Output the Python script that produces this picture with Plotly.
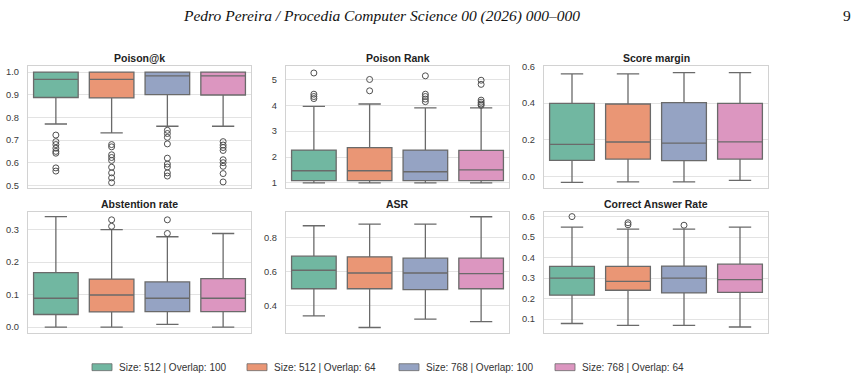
import plotly.graph_objects as go

W, H = 858, 381

configs = ["Size: 512 | Overlap: 100", "Size: 512 | Overlap: 64",
           "Size: 768 | Overlap: 100", "Size: 768 | Overlap: 64"]
colors = ["#71b7a1", "#ea9675", "#95a3c3", "#dc96c0"]

titles = ["Poison@k", "Poison Rank", "Score margin",
          "Abstention rate", "ASR", "Correct Answer Rate"]

# box statistics per panel: lists over the 4 configs
poisonk_q1 = [0.888, 0.886, 0.901, 0.899]
poisonk_med = [0.968, 0.968, 0.983, 0.983]
poisonk_q3 = [1.0, 1.0, 1.0, 1.0]
poisonk_lo = [0.771, 0.732, 0.761, 0.761]
poisonk_hi = [1.0, 1.0, 1.0, 1.0]
poisonk_out = [[0.722, 0.693, 0.680, 0.664, 0.650, 0.642, 0.577, 0.563],
               [0.680, 0.670, 0.635, 0.623, 0.610, 0.580, 0.555, 0.533, 0.512],
               [0.743, 0.729, 0.712, 0.683, 0.620, 0.594, 0.581, 0.555, 0.541],
               [0.693, 0.678, 0.667, 0.654, 0.613, 0.600, 0.584, 0.552, 0.515]]

rank_q1 = [1.09, 1.09, 1.09, 1.09]
rank_med = [1.47, 1.47, 1.43, 1.50]
rank_q3 = [2.27, 2.36, 2.27, 2.26]
rank_lo = [1.0, 1.0, 1.0, 1.0]
rank_hi = [3.96, 4.05, 3.90, 3.90]
rank_out = [[5.25, 4.43, 4.34, 4.26],
            [5.00, 4.56],
            [5.14, 4.43, 4.34, 4.24, 4.14],
            [4.97, 4.81, 4.20, 4.12, 4.05, 4.00]]

margin_q1 = [0.088, 0.095, 0.086, 0.095]
margin_med = [0.175, 0.188, 0.182, 0.189]
margin_q3 = [0.398, 0.395, 0.402, 0.398]
margin_lo = [-0.032, -0.029, -0.029, -0.021]
margin_hi = [0.559, 0.559, 0.566, 0.566]
margin_out = [[], [], [], []]

abst_q1 = [0.039, 0.047, 0.048, 0.048]
abst_med = [0.089, 0.099, 0.089, 0.089]
abst_q3 = [0.168, 0.148, 0.139, 0.149]
abst_lo = [0.0, 0.0, 0.009, 0.0]
abst_hi = [0.340, 0.300, 0.278, 0.288]
abst_out = [[], [0.330, 0.310], [0.330, 0.288], []]

asr_q1 = [0.501, 0.501, 0.496, 0.501]
asr_med = [0.610, 0.594, 0.594, 0.590]
asr_q3 = [0.693, 0.689, 0.681, 0.681]
asr_lo = [0.341, 0.273, 0.322, 0.308]
asr_hi = [0.872, 0.882, 0.882, 0.925]
asr_out = [[], [], [], []]

car_q1 = [0.217, 0.241, 0.228, 0.231]
car_med = [0.300, 0.284, 0.300, 0.293]
car_q3 = [0.357, 0.357, 0.359, 0.368]
car_lo = [0.079, 0.070, 0.070, 0.062]
car_hi = [0.549, 0.539, 0.539, 0.549]
car_out = [[0.600], [0.570, 0.560], [0.558], []]

panels = [
    (poisonk_q1, poisonk_med, poisonk_q3, poisonk_lo, poisonk_hi, poisonk_out),
    (rank_q1, rank_med, rank_q3, rank_lo, rank_hi, rank_out),
    (margin_q1, margin_med, margin_q3, margin_lo, margin_hi, margin_out),
    (abst_q1, abst_med, abst_q3, abst_lo, abst_hi, abst_out),
    (asr_q1, asr_med, asr_q3, asr_lo, asr_hi, asr_out),
    (car_q1, car_med, car_q3, car_lo, car_hi, car_out),
]

y_ranges = [[0.488, 1.027], [0.80, 5.52], [-0.063, 0.602],
            [-0.017, 0.355], [0.242, 0.955], [0.034, 0.624]]
y_dticks = [0.1, 1, 0.2, 0.1, 0.2, 0.1]
y_formats = [".1f", "d", ".1f", ".1f", ".1f", ".1f"]

# layout in pixels
col_px = [(28, 251), (286, 509), (544, 768)]
row_px = [(63, 187), (211, 334)]

LINE = "#6a6a6a"
GRID = "#e3e3e3"
FRAME = "#d2d2d2"
FONT = "Liberation Sans, Arial, sans-serif"

fig = go.Figure()
layout = dict(width=W, height=H, margin=dict(l=0, r=0, t=0, b=0),
              paper_bgcolor="white", plot_bgcolor="white",
              showlegend=False, boxmode="overlay")
annotations = []
shapes = []

for i, (q1, med, q3, lo, hi, outs) in enumerate(panels):
    r, c = divmod(i, 3)
    n = i + 1
    xa = "x" if n == 1 else f"x{n}"
    ya = "y" if n == 1 else f"y{n}"
    x0, x1 = col_px[c]
    t0, t1 = row_px[r]
    layout["xaxis" if n == 1 else f"xaxis{n}"] = dict(
        domain=[x0 / W, x1 / W], anchor=ya, type="category",
        categoryorder="array", categoryarray=configs, range=[-0.5, 3.5],
        showticklabels=False, showgrid=False, zeroline=False,
        showline=True, mirror=True, linecolor=FRAME, linewidth=1.2, ticks="")
    layout["yaxis" if n == 1 else f"yaxis{n}"] = dict(
        domain=[1 - t1 / H, 1 - t0 / H], anchor=xa, range=y_ranges[i],
        dtick=y_dticks[i], tick0=0, tickformat=y_formats[i],
        showgrid=True, gridcolor=GRID, gridwidth=1, zeroline=False,
        showline=True, mirror=True, linecolor=FRAME, linewidth=1.2,
        ticks="", ticklabelstandoff=6,
        tickfont=dict(family=FONT, size=9.3, color="#3a3a3a"))
    for k, name in enumerate(configs):
        fig.add_trace(go.Box(
            x=[name], q1=[q1[k]], median=[med[k]], q3=[q3[k]],
            lowerfence=[lo[k]], upperfence=[hi[k]],
            width=0.8, whiskerwidth=0.5, fillcolor=colors[k],
            line=dict(color=LINE, width=1.3), xaxis=xa, yaxis=ya,
            name=name, hoverinfo="skip"))
        if outs[k]:
            fig.add_trace(go.Scatter(
                x=[name] * len(outs[k]), y=outs[k], mode="markers",
                marker=dict(symbol="circle-open", size=6,
                            color="#505050", line=dict(width=1)),
                xaxis=xa, yaxis=ya, hoverinfo="skip"))
    annotations.append(dict(
        text=f"<b>{titles[i]}</b>", xref="paper", yref="paper",
        x=(x0 + x1) / 2 / W, y=1 - (t0 - 8) / H, xanchor="center",
        yanchor="middle", showarrow=False,
        font=dict(family=FONT, size=10.5, color="#222222")))

# header
annotations.append(dict(
    text="<i>Pedro Pereira / Procedia Computer Science 00 (2026) 000–000</i>",
    xref="paper", yref="paper", x=381 / W, y=1 - 12 / H, xanchor="center",
    yanchor="middle", showarrow=False,
    font=dict(family="Liberation Serif, Times New Roman, serif", size=15.5,
              color="#111111")))
annotations.append(dict(
    text="9", xref="paper", yref="paper", x=853 / W, y=1 - 12 / H,
    xanchor="right", yanchor="middle", showarrow=False,
    font=dict(family="Liberation Serif, Times New Roman, serif", size=15.5,
              color="#111111")))

# legend (manual)
legend_x = [92, 247, 399, 555]
for k, name in enumerate(configs):
    lx = legend_x[k]
    shapes.append(dict(type="rect", xref="paper", yref="paper",
                       x0=lx / W, x1=(lx + 20) / W,
                       y0=1 - 372.5 / H, y1=1 - 365.5 / H,
                       fillcolor=colors[k], line=dict(color=LINE, width=0.8)))
    annotations.append(dict(
        text=name, xref="paper", yref="paper", x=(lx + 25) / W,
        y=1 - 369 / H, xanchor="left", yanchor="middle", showarrow=False,
        font=dict(family=FONT, size=10, color="#333333")))

layout["annotations"] = annotations
layout["shapes"] = shapes
fig.update_layout(**layout)
fig.write_html("out.html")
